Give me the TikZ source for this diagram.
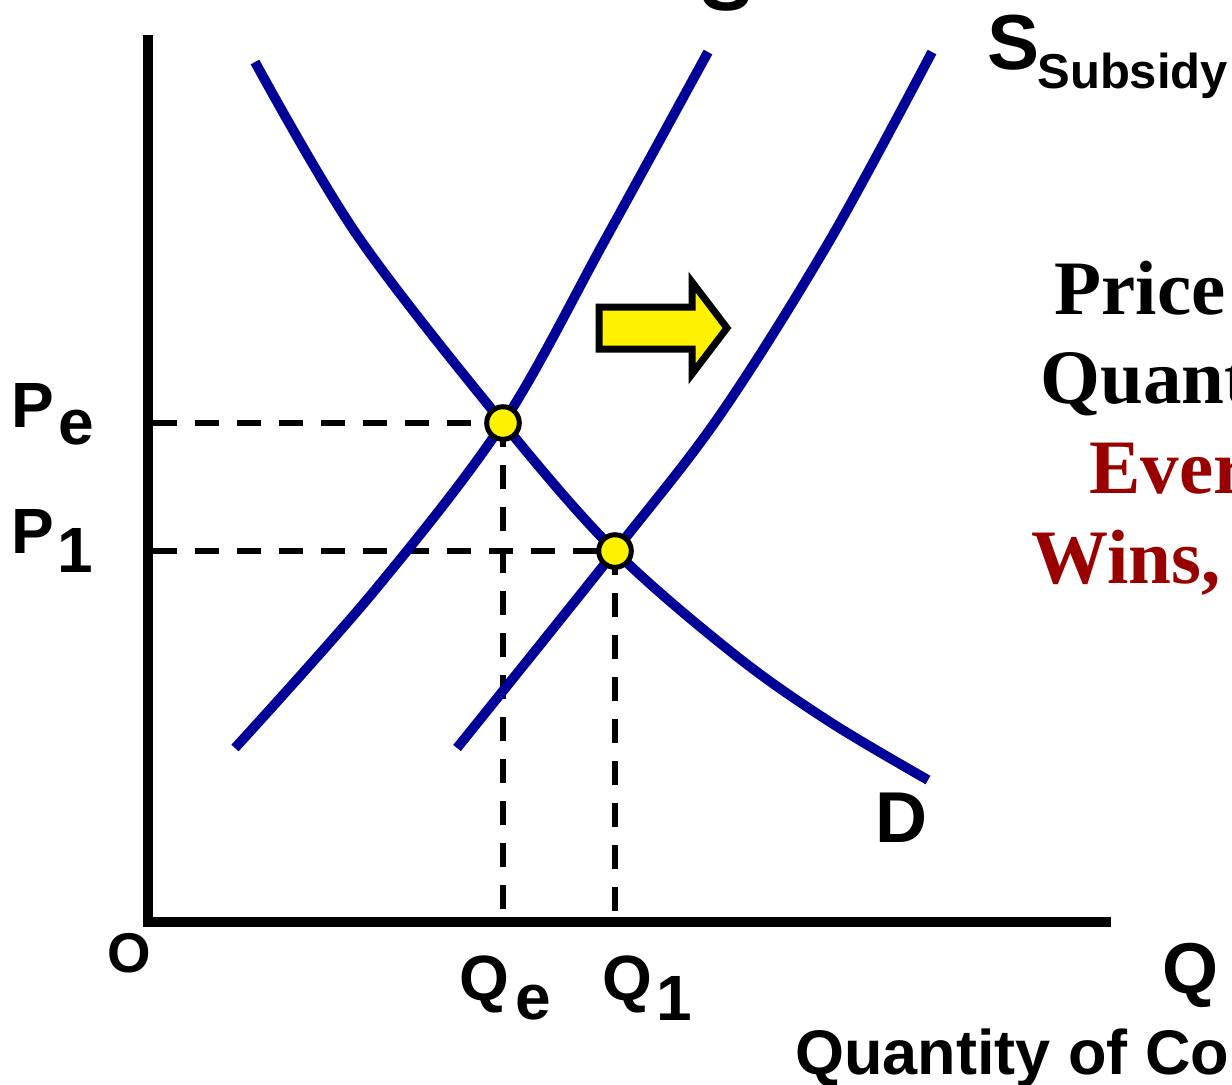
\documentclass[tikz,border=0pt]{standalone}
\usepackage{fontspec}
\setmainfont{Liberation Sans}
\newfontfamily\tnr{Liberation Serif}
\definecolor{cblue}{RGB}{0,0,153}
\definecolor{dred}{RGB}{153,0,0}
\begin{document}
\begin{tikzpicture}[x=0.5pt,y=-0.5pt,
  axis/.style={line width=5pt, line join=miter},
  curve/.style={line width=4.9pt, draw=cblue},
  guide/.style={line width=3pt, dash pattern=on 12pt off 9pt},
  eqdot/.style={circle, fill=yellow, draw=black, line width=2.5pt, minimum size=16.3pt, inner sep=0pt},
  shiftarrow/.style={line width=3.5pt, fill=yellow, draw=black, line join=miter, miter limit=10},
  lbl/.style={font=\fontsize{32}{32}\selectfont\bfseries, anchor=base west, inner sep=0pt},
  biglbl/.style={font=\fontsize{39}{39}\selectfont\bfseries, anchor=base west, inner sep=0pt},
  note/.style={font=\fontsize{38.5}{38.5}\selectfont\tnr\bfseries, anchor=base west, inner sep=0pt}
]
\useasboundingbox (0,0) rectangle (1232,1084);

% axes
\coordinate (ytop) at (148,35);
\coordinate (orig) at (148,922);
\coordinate (xend) at (1111,922);
\draw[axis] (ytop) -- (orig) -- (xend);

% key points
\coordinate (E) at (503,423);
\coordinate (F) at (615,551);
\coordinate (Pe) at (153,423);
\coordinate (P1) at (153,551);
\coordinate (Qe) at (503,917);
\coordinate (Q1) at (615,917);

% guide lines
\draw[guide] (Pe) -- (E);
\draw[guide] (P1) -- (F);
\draw[guide] (E) -- (Qe);
\draw[guide] (F) -- (Q1);

% supply
\draw[curve] plot[smooth, tension=0.55] coordinates {(235,748) (375,590) (503,423) (605,240) (708,52)};
% supply with subsidy
\draw[curve] plot[smooth, tension=0.55] coordinates {(457,748) (615,551) (720,415) (830,240) (932,52)};
% demand
\draw[curve] plot[smooth, tension=0.55] coordinates {(255,62) (357,235) (503,423) (615,551) (735,655) (830,722) (928,780)};

% equilibrium dots
\node[eqdot] (dotE) at (E) {};
\node[eqdot] (dotF) at (F) {};

% shift arrow
\draw[shiftarrow] (599,307) -- (692,307) -- (692,282) -- (727,328) -- (692,374) -- (692,349) -- (599,349) -- cycle;

% labels
\node[lbl] (lPe) at (11,427) {P\hspace*{2pt}\raisebox{-8.5pt}{e}};
\node[lbl] (lP1) at (11,553) {P\hspace*{1.5pt}\raisebox{-9.5pt}{1}};
\node[lbl] (lQe) at (459,1000) {Q\hspace*{3pt}\raisebox{-9.5pt}{e}};
\node[lbl] (lQ1) at (602,1000) {Q\hspace*{2pt}\raisebox{-10pt}{1}};
\node[font=\fontsize{28}{28}\selectfont\bfseries, anchor=base west, inner sep=0pt] (lO) at (107,972) {O};
\node[font=\fontsize{36}{36}\selectfont\bfseries, anchor=base west, inner sep=0pt] (lD) at (875,842) {D};
\node[font=\fontsize{36}{36}\selectfont\bfseries, anchor=base west, inner sep=0pt] (lQ) at (1162,993) {Q};
\node[font=\fontsize{31.5}{31.5}\selectfont\bfseries, anchor=base west, inner sep=0pt] (lQty) at (795,1074) {Quantity of Co};
\node[biglbl] (lS) at (700,10) {S};
\node[biglbl] (lSs) at (987,69) {S\hspace*{-1pt}\raisebox{-9.5pt}{\fontsize{24.5}{24.5}\selectfont Subsidy}};

% right-hand text
\node[note] (t1) at (1054,314) {Price};
\node[note] (t2) at (1040,403) {Quant};
\node[note, text=dred] (t3) at (1089,493) {Ever};
\node[note, text=dred] (t4) at (1031,583) {Wins,};
\end{tikzpicture}
\end{document}
